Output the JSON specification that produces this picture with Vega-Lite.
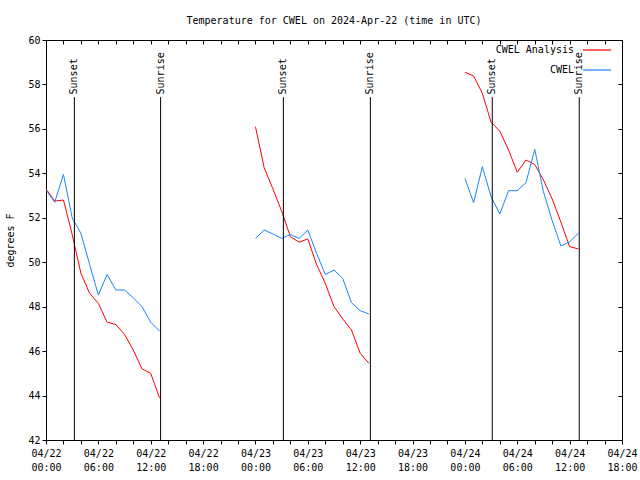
{
  "$schema": "https://vega.github.io/schema/vega-lite/v6.json",
  "width": 576,
  "height": 400,
  "autosize": "none",
  "padding": {"left": 46, "top": 40, "right": 18, "bottom": 40},
  "background": "white",
  "title": {"text": "Temperature for CWEL on 2024-Apr-22 (time in UTC)", "font": "DejaVu Sans Mono", "fontSize": 10, "fontWeight": "normal", "color": "black", "anchor": "middle", "offset": 9},
  "config": {
    "view": {"stroke": "black", "strokeWidth": 1},
    "axis": {"labelFont": "DejaVu Sans Mono", "labelFontSize": 10, "labelColor": "black", "titleFont": "DejaVu Sans Mono", "titleFontSize": 10, "titleFontWeight": "normal", "titleColor": "black", "grid": false, "domain": false, "tickColor": "black"},
    "legend": {"labelFont": "DejaVu Sans Mono", "labelFontSize": 10, "labelColor": "black"}
  },
  "datasets": {
    "temps": [
      {"t": "2024-04-22T00:00:00Z", "day": 1, "CWEL Analysis": 53.3, "CWEL": 53.25},
      {"t": "2024-04-22T01:00:00Z", "day": 1, "CWEL Analysis": 52.75, "CWEL": 52.7},
      {"t": "2024-04-22T02:00:00Z", "day": 1, "CWEL Analysis": 52.8, "CWEL": 53.95},
      {"t": "2024-04-22T03:00:00Z", "day": 1, "CWEL Analysis": 51.25, "CWEL": 52.0},
      {"t": "2024-04-22T04:00:00Z", "day": 1, "CWEL Analysis": 49.5, "CWEL": 51.3},
      {"t": "2024-04-22T05:00:00Z", "day": 1, "CWEL Analysis": 48.6, "CWEL": 49.9},
      {"t": "2024-04-22T06:00:00Z", "day": 1, "CWEL Analysis": 48.15, "CWEL": 48.52},
      {"t": "2024-04-22T07:00:00Z", "day": 1, "CWEL Analysis": 47.3, "CWEL": 49.45},
      {"t": "2024-04-22T08:00:00Z", "day": 1, "CWEL Analysis": 47.2, "CWEL": 48.75},
      {"t": "2024-04-22T09:00:00Z", "day": 1, "CWEL Analysis": 46.75, "CWEL": 48.75},
      {"t": "2024-04-22T10:00:00Z", "day": 1, "CWEL Analysis": 46.05, "CWEL": 48.4},
      {"t": "2024-04-22T11:00:00Z", "day": 1, "CWEL Analysis": 45.2, "CWEL": 48.0},
      {"t": "2024-04-22T12:00:00Z", "day": 1, "CWEL Analysis": 45.0, "CWEL": 47.3},
      {"t": "2024-04-22T13:00:00Z", "day": 1, "CWEL Analysis": 43.9, "CWEL": 46.9},
      {"t": "2024-04-23T00:00:00Z", "day": 2, "CWEL Analysis": 56.1, "CWEL": 51.07},
      {"t": "2024-04-23T01:00:00Z", "day": 2, "CWEL Analysis": 54.25, "CWEL": 51.45},
      {"t": "2024-04-23T02:00:00Z", "day": 2, "CWEL Analysis": 53.3, "CWEL": 51.27},
      {"t": "2024-04-23T03:00:00Z", "day": 2, "CWEL Analysis": 52.3, "CWEL": 51.07},
      {"t": "2024-04-23T04:00:00Z", "day": 2, "CWEL Analysis": 51.15, "CWEL": 51.25},
      {"t": "2024-04-23T05:00:00Z", "day": 2, "CWEL Analysis": 50.9, "CWEL": 51.07},
      {"t": "2024-04-23T06:00:00Z", "day": 2, "CWEL Analysis": 51.05, "CWEL": 51.45},
      {"t": "2024-04-23T07:00:00Z", "day": 2, "CWEL Analysis": 49.9, "CWEL": 50.4},
      {"t": "2024-04-23T08:00:00Z", "day": 2, "CWEL Analysis": 49.05, "CWEL": 49.45},
      {"t": "2024-04-23T09:00:00Z", "day": 2, "CWEL Analysis": 48.0, "CWEL": 49.65},
      {"t": "2024-04-23T10:00:00Z", "day": 2, "CWEL Analysis": 47.45, "CWEL": 49.27},
      {"t": "2024-04-23T11:00:00Z", "day": 2, "CWEL Analysis": 46.95, "CWEL": 48.18},
      {"t": "2024-04-23T12:00:00Z", "day": 2, "CWEL Analysis": 45.9, "CWEL": 47.82},
      {"t": "2024-04-23T13:00:00Z", "day": 2, "CWEL Analysis": 45.45, "CWEL": 47.67},
      {"t": "2024-04-24T00:00:00Z", "day": 3, "CWEL Analysis": 58.55, "CWEL": 53.77},
      {"t": "2024-04-24T01:00:00Z", "day": 3, "CWEL Analysis": 58.38, "CWEL": 52.68},
      {"t": "2024-04-24T02:00:00Z", "day": 3, "CWEL Analysis": 57.6, "CWEL": 54.3},
      {"t": "2024-04-24T03:00:00Z", "day": 3, "CWEL Analysis": 56.3, "CWEL": 52.95},
      {"t": "2024-04-24T04:00:00Z", "day": 3, "CWEL Analysis": 55.9, "CWEL": 52.17},
      {"t": "2024-04-24T05:00:00Z", "day": 3, "CWEL Analysis": 55.05, "CWEL": 53.22},
      {"t": "2024-04-24T06:00:00Z", "day": 3, "CWEL Analysis": 54.05, "CWEL": 53.22},
      {"t": "2024-04-24T07:00:00Z", "day": 3, "CWEL Analysis": 54.6, "CWEL": 53.58},
      {"t": "2024-04-24T08:00:00Z", "day": 3, "CWEL Analysis": 54.4, "CWEL": 55.08},
      {"t": "2024-04-24T09:00:00Z", "day": 3, "CWEL Analysis": 53.7, "CWEL": 53.17},
      {"t": "2024-04-24T10:00:00Z", "day": 3, "CWEL Analysis": 52.85, "CWEL": 51.87},
      {"t": "2024-04-24T11:00:00Z", "day": 3, "CWEL Analysis": 51.8, "CWEL": 50.73},
      {"t": "2024-04-24T12:00:00Z", "day": 3, "CWEL Analysis": 50.7, "CWEL": 50.92},
      {"t": "2024-04-24T13:00:00Z", "day": 3, "CWEL Analysis": 50.6, "CWEL": 51.3}
    ],
    "sun": [
      {"t": "2024-04-22T03:15:00Z", "event": "Sunset"},
      {"t": "2024-04-22T13:08:00Z", "event": "Sunrise"},
      {"t": "2024-04-23T03:12:00Z", "event": "Sunset"},
      {"t": "2024-04-23T13:10:00Z", "event": "Sunrise"},
      {"t": "2024-04-24T03:08:00Z", "event": "Sunset"},
      {"t": "2024-04-24T13:06:00Z", "event": "Sunrise"}
    ]
  },
  "resolve": {"axis": {"x": "independent", "y": "independent"}},
  "layer": [
    {
      "data": {"name": "temps"},
      "transform": [{"fold": ["CWEL Analysis", "CWEL"], "as": ["series", "temp"]}],
      "mark": {"type": "line", "strokeWidth": 1},
      "encoding": {
        "x": {"field": "t", "type": "temporal",
          "scale": {"type": "utc", "domain": [1713744000000, 1713981600000], "nice": false},
          "axis": {"orient": "bottom", "title": null, "values": [1713744000000, 1713751200000, 1713758400000, 1713765600000, 1713772800000, 1713780000000, 1713787200000, 1713794400000, 1713801600000, 1713808800000, 1713816000000, 1713823200000, 1713830400000, 1713837600000, 1713844800000, 1713852000000, 1713859200000, 1713866400000, 1713873600000, 1713880800000, 1713888000000, 1713895200000, 1713902400000, 1713909600000, 1713916800000, 1713924000000, 1713931200000, 1713938400000, 1713945600000, 1713952800000, 1713960000000, 1713967200000, 1713974400000, 1713981600000],
            "tickSize": 4, "labelPadding": 4, "labelOverlap": false, "labelBound": false, "labelFlush": false, "labelLineHeight": 14,
            "labelExpr": "utchours(datum.value) % 6 == 0 ? [utcFormat(datum.value, '%m/%d'), utcFormat(datum.value, '%H:%M')] : ''"}},
        "y": {"field": "temp", "type": "quantitative",
          "scale": {"domain": [42, 60], "nice": false, "zero": false},
          "axis": {"orient": "left", "title": "degrees F", "values": [42, 44, 46, 48, 50, 52, 54, 56, 58, 60], "tickSize": 4, "labelPadding": 2, "labelOverlap": false, "titleX": -36, "titleY": 200, "titleAngle": 270, "titleAlign": "center", "titleBaseline": "middle"}},
        "color": {"field": "series", "type": "nominal",
          "scale": {"domain": ["CWEL Analysis", "CWEL"], "range": ["#ff0000", "#1a84ff"]},
          "legend": {"title": null, "orient": "none", "legendX": 536, "legendY": -5, "symbolType": "stroke", "symbolSize": 784, "symbolStrokeWidth": 1.2, "labelAlign": "right", "labelOffset": -38, "rowPadding": -7, "padding": 0}},
        "detail": {"field": "day", "type": "nominal"}
      }
    },
    {
      "data": {"name": "sun"},
      "mark": {"type": "rule", "color": "black", "strokeWidth": 1},
      "encoding": {
        "x": {"field": "t", "type": "temporal",
          "axis": {"orient": "top", "title": null, "labels": false, "values": [1713744000000, 1713751200000, 1713758400000, 1713765600000, 1713772800000, 1713780000000, 1713787200000, 1713794400000, 1713801600000, 1713808800000, 1713816000000, 1713823200000, 1713830400000, 1713837600000, 1713844800000, 1713852000000, 1713859200000, 1713866400000, 1713873600000, 1713880800000, 1713888000000, 1713895200000, 1713902400000, 1713909600000, 1713916800000, 1713924000000, 1713931200000, 1713938400000, 1713945600000, 1713952800000, 1713960000000, 1713967200000, 1713974400000, 1713981600000], "tickSize": -4}},
        "y": {"datum": 42, "type": "quantitative",
          "axis": {"orient": "right", "title": null, "labels": false, "values": [42, 44, 46, 48, 50, 52, 54, 56, 58, 60], "tickSize": -4}},
        "y2": {"datum": 57.43}
      }
    },
    {
      "data": {"name": "sun"},
      "mark": {"type": "text", "angle": 270, "align": "left", "baseline": "middle", "font": "DejaVu Sans Mono", "fontSize": 10, "color": "black"},
      "encoding": {
        "x": {"field": "t", "type": "temporal", "axis": null},
        "y": {"datum": 57.55, "type": "quantitative", "axis": null},
        "text": {"field": "event"}
      }
    }
  ]
}
